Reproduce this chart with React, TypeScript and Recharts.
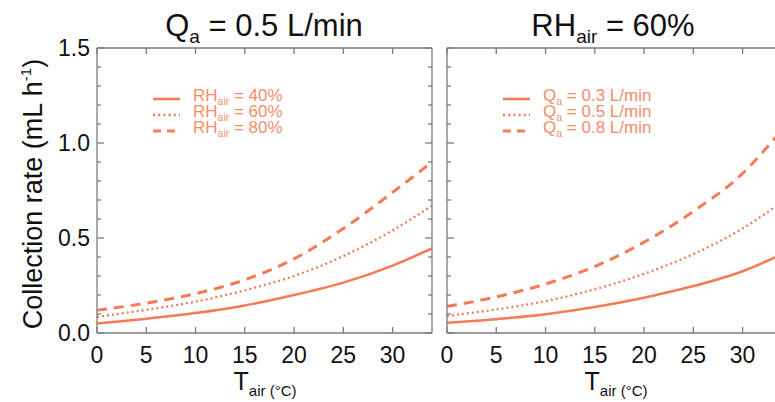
import { LineChart, Line, XAxis, YAxis } from "recharts";

// air temperature (°C) sample points
const tAir = [0, 5, 10, 15, 20, 25, 30, 34];

// left panel, Qa = 0.5 L/min
const rh40 = [0.05, 0.075, 0.105, 0.145, 0.2, 0.265, 0.355, 0.445];
const rh60 = [0.085, 0.122, 0.165, 0.225, 0.3, 0.405, 0.54, 0.67];
const rh80 = [0.12, 0.157, 0.207, 0.28, 0.39, 0.55, 0.74, 0.9];

// right panel, RHair = 60%
const qa03 = [0.054, 0.073, 0.099, 0.137, 0.186, 0.247, 0.325, 0.415];
const qa05 = [0.09, 0.124, 0.168, 0.23, 0.312, 0.415, 0.55, 0.69];
const qa08 = [0.14, 0.19, 0.258, 0.35, 0.478, 0.64, 0.84, 1.07];

const xTicks = [0, 5, 10, 15, 20, 25, 30];
const yTicks = [0, 0.1, 0.2, 0.3, 0.4, 0.5, 0.6, 0.7, 0.8, 0.9, 1.0, 1.1, 1.2, 1.3, 1.4, 1.5];
const yMajor = [0, 0.5, 1.0, 1.5];

const rhLegend = ["= 40%", "= 60%", "= 80%"];
const qaLegend = ["= 0.3 L/min", "= 0.5 L/min", "= 0.8 L/min"];

const leftData = tAir.map((t, i) => ({ t, a: rh40[i], b: rh60[i], c: rh80[i] }));
const rightData = tAir.map((t, i) => ({ t, a: qa03[i], b: qa05[i], c: qa08[i] }));

const FONT = "'Liberation Sans', Arial, Helvetica, sans-serif";
const AXIS = "#7a7a7a";
const LINE = "#F47B56";
const LEG_TEXT = "#F48D6C";
const dashes = [undefined, "2 3", "10 7"];
const widths = [2.5, 2.3, 3];

const isMajor = (v: number) => yMajor.some((m) => Math.abs(m - v) < 1e-6);

const LeftTick = ({ x, y, payload, labels }: any) => {
  const major = isMajor(payload.value);
  const x0 = x + 7;
  return (
    <g>
      <line x1={x0} x2={x0 + (major ? 7 : 4)} y1={y} y2={y} stroke={AXIS} strokeWidth={1.3} />
      {labels && major && (
        <text x={x} y={y} dy={8} textAnchor="end" fontSize={23} fontFamily={FONT} fill="#111">
          {payload.value.toFixed(1)}
        </text>
      )}
    </g>
  );
};

const RightTick = ({ x, y, payload }: any) => {
  const major = isMajor(payload.value);
  return <line x1={x} x2={x - (major ? 7 : 4)} y1={y} y2={y} stroke={AXIS} strokeWidth={1.3} />;
};

const TopTick = ({ x, y }: any) => (
  <line x1={x} x2={x} y1={y} y2={y + 6} stroke={AXIS} strokeWidth={1.3} />
);

const BottomTick = ({ x, y, payload }: any) => (
  <g>
    <line x1={x} x2={x} y1={y - 8} y2={y - 14} stroke={AXIS} strokeWidth={1.3} />
    <text x={x} y={y + 22} textAnchor="middle" fontSize={23} fontFamily={FONT} fill="#111">
      {payload.value}
    </text>
  </g>
);

function Panel({ data, left, width, yLeftWidth, labels }: any) {
  return (
    <div style={{ position: "absolute", left, top: 0 }}>
      <LineChart width={width} height={402} data={data} margin={{ top: 0, right: 0, bottom: 0, left: 0 }}>
        <XAxis
          xAxisId="b"
          dataKey="t"
          type="number"
          domain={[0, 34]}
          ticks={xTicks}
          orientation="bottom"
          height={69}
          tickSize={0}
          tickMargin={8}
          tickLine={false}
          axisLine={{ stroke: AXIS, strokeWidth: 1.3 }}
          tick={(p: any) => <BottomTick {...p} />}
          allowDataOverflow
        />
        <XAxis
          xAxisId="t"
          dataKey="t"
          type="number"
          domain={[0, 34]}
          ticks={xTicks}
          orientation="top"
          height={48}
          tickSize={0}
          tickMargin={0}
          tickLine={false}
          axisLine={{ stroke: AXIS, strokeWidth: 1.3 }}
          tick={(p: any) => <TopTick {...p} />}
          allowDataOverflow
        />
        <YAxis
          yAxisId="l"
          type="number"
          domain={[0, 1.5]}
          ticks={yTicks}
          orientation="left"
          width={yLeftWidth}
          tickSize={0}
          tickMargin={7}
          tickLine={false}
          axisLine={{ stroke: AXIS, strokeWidth: 1.3 }}
          tick={(p: any) => <LeftTick {...p} labels={labels} />}
          interval={0}
          allowDataOverflow
        />
        <YAxis
          yAxisId="r"
          type="number"
          domain={[0, 1.5]}
          ticks={yTicks}
          orientation="right"
          width={13}
          tickSize={0}
          tickMargin={0}
          tickLine={false}
          axisLine={{ stroke: AXIS, strokeWidth: 1.3 }}
          tick={(p: any) => <RightTick {...p} />}
          interval={0}
          allowDataOverflow
        />
        {["a", "b", "c"].map((k, i) => (
          <Line
            key={k}
            xAxisId="b"
            yAxisId="l"
            type="monotone"
            dataKey={k}
            stroke={LINE}
            strokeWidth={widths[i]}
            strokeDasharray={dashes[i]}
            dot={false}
            activeDot={false}
            isAnimationActive={false}
          />
        ))}
      </LineChart>
    </div>
  );
}

function LegendBox({ x, main, sub, labels }: any) {
  const rows = [99, 115, 131];
  return (
    <g>
      {labels.map((l: string, i: number) => (
        <g key={l}>
          <line
            x1={x}
            x2={x + 27}
            y1={rows[i]}
            y2={rows[i]}
            stroke={LINE}
            strokeWidth={widths[i]}
            strokeDasharray={i === 1 ? "2 3.2" : i === 2 ? "8 6" : undefined}
          />
          <text x={x + 40} y={rows[i] + 2} fontSize={17} fontFamily={FONT} fill={LEG_TEXT}>
            {main}
            <tspan fontSize={10.5} dy={4}>{sub}</tspan>
            <tspan dy={-4}>{" " + l}</tspan>
          </text>
        </g>
      ))}
    </g>
  );
}

export default function App() {
  return (
    <div
      style={{
        position: "fixed",
        left: 0,
        top: 0,
        width: 775,
        height: 402,
        overflow: "hidden",
        background: "#fff",
        fontFamily: FONT,
      }}
    >
      <Panel data={leftData} left={0} width={445} yLeftWidth={97} labels />
      <Panel data={rightData} left={437} width={358} yLeftWidth={10} labels={false} />
      <svg width={775} height={402} style={{ position: "absolute", left: 0, top: 0, pointerEvents: "none" }}>
        <text x={264} y={36} textAnchor="middle" fontSize={31} fontFamily={FONT} fill="#111">
          Q<tspan fontSize={19} dy={7}>a</tspan>
          <tspan dy={-7}> = 0.5 L/min</tspan>
        </text>
        <text x={613} y={36} textAnchor="middle" fontSize={31} fontFamily={FONT} fill="#111">
          RH<tspan fontSize={19} dy={7}>air</tspan>
          <tspan dy={-7}> = 60%</tspan>
        </text>
        <text
          transform="translate(42,194) rotate(-90)"
          textAnchor="middle"
          fontSize={27}
          fontFamily={FONT}
          fill="#111"
        >
          Collection rate (mL h<tspan fontSize={15} dy={-11}>-1</tspan>
          <tspan dy={11}>)</tspan>
        </text>
        <text x={265} y={390} textAnchor="middle" fontSize={25} fontFamily={FONT} fill="#111">
          T<tspan fontSize={15} dy={6}>air (°C)</tspan>
        </text>
        <text x={616} y={390} textAnchor="middle" fontSize={25} fontFamily={FONT} fill="#111">
          T<tspan fontSize={15} dy={6}>air (°C)</tspan>
        </text>
        <LegendBox x={153} main="RH" sub="air" labels={rhLegend} />
        <LegendBox x={503} main="Q" sub="a" labels={qaLegend} />
      </svg>
    </div>
  );
}
